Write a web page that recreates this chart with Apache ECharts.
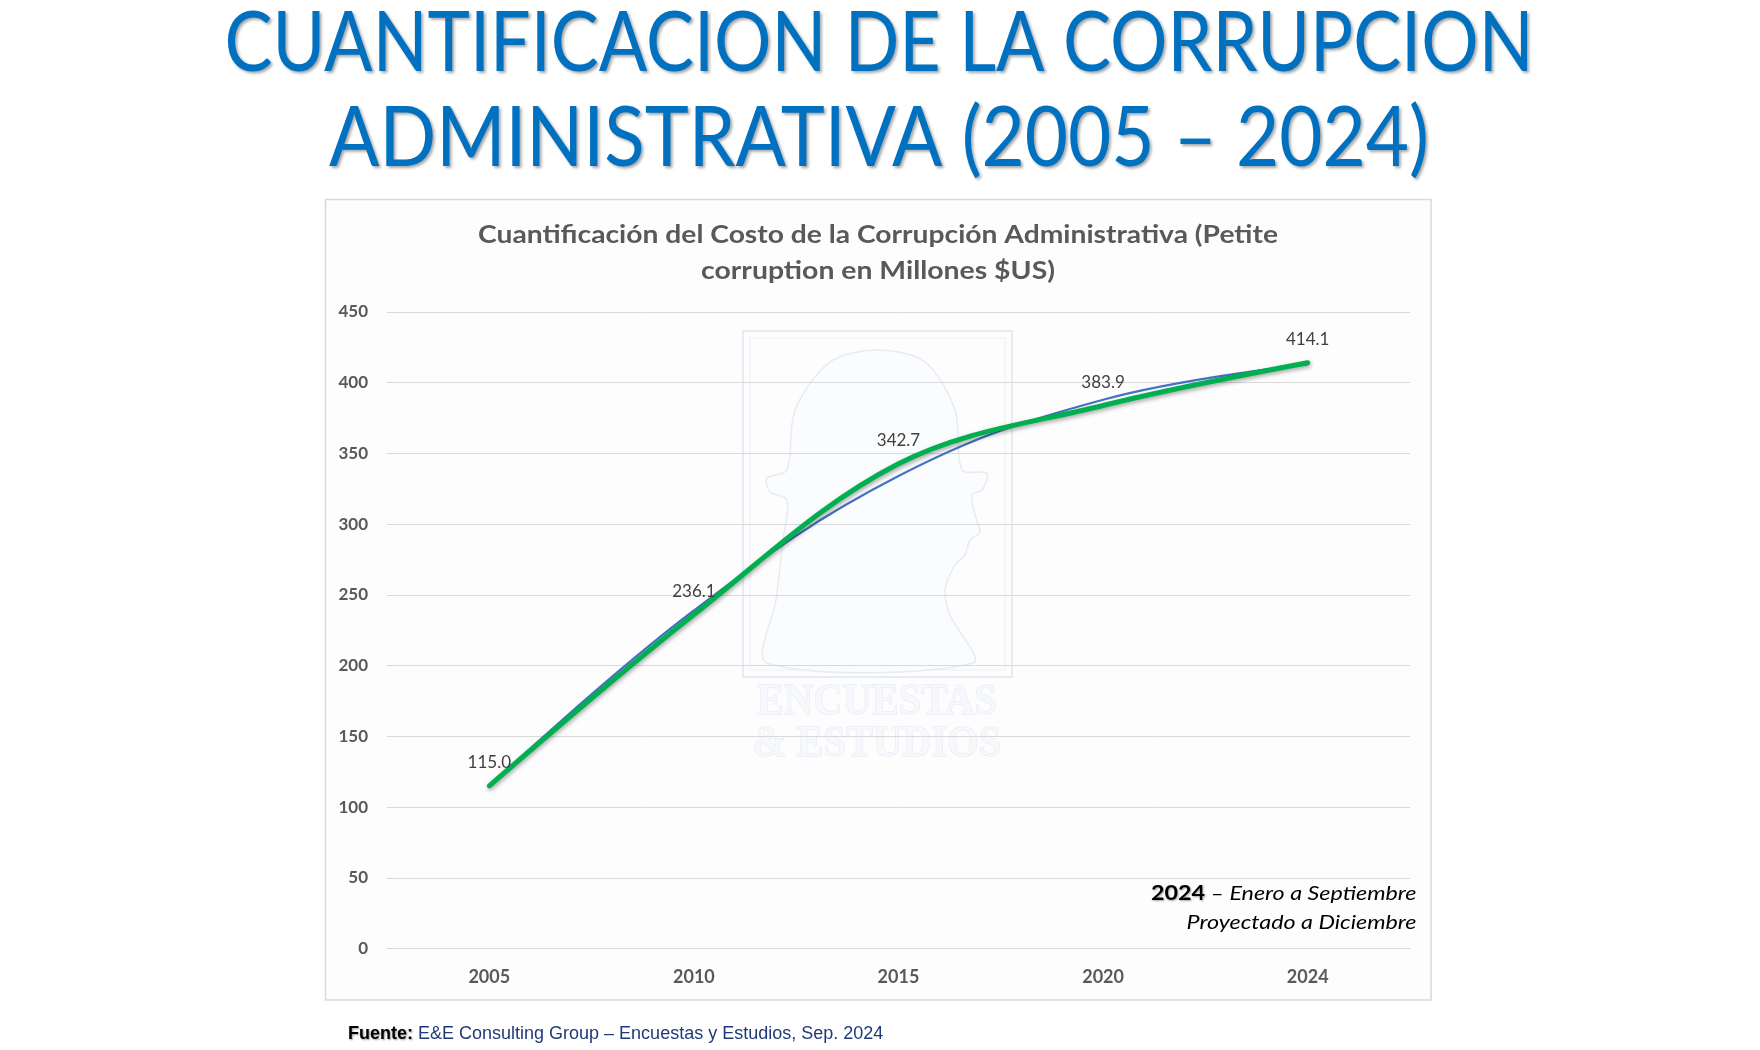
<!DOCTYPE html>
<html>
<head>
<meta charset="utf-8">
<script src="https://cdn.jsdelivr.net/npm/echarts@6/dist/echarts.min.js"></script>
<style>
html,body{margin:0;padding:0;background:#ffffff;}
#chart{width:1760px;height:1050px;}
</style>
</head>
<body>
<div id="chart"></div>
<script>
// ---- data ----
const years = ['2005', '2010', '2015', '2020', '2024'];
const costValues = [115.0, 236.1, 342.7, 383.9, 414.1];      // green series (labelled)
const trendValues = [115, 239, 334, 388, 413];                 // blue thin line
const yMin = 0, yMax = 450, yStep = 50;

const mainTitle1 = 'CUANTIFICACION DE LA CORRUPCION';
const mainTitle2 = 'ADMINISTRATIVA (2005 – 2024)';
const chartTitle1 = 'Cuantificación del Costo de la Corrupción Administrativa (Petite';
const chartTitle2 = 'corruption en Millones $US)';
const noteBold = '2024';
const noteLine1 = ' – Enero a Septiembre';
const noteLine2 = 'Proyectado a Diciembre';
const sourceLabel = 'Fuente:';
const sourceText = ' E&E Consulting Group – Encuestas y Estudios, Sep. 2024';

// ---- helpers ----
const mctx = document.createElement('canvas').getContext('2d');
function fitScale(text, font, target) {
  mctx.font = font;
  return target / mctx.measureText(text).width;
}

const CAL = 'Lato, "Open Sans", sans-serif';
const t1Font = 'normal 83px ' + CAL;
const s1 = fitScale(mainTitle1, t1Font, 1309);
const s2 = fitScale(mainTitle2, t1Font, 1100);
const ctFont = 'bold 25px ' + CAL;
const cs1 = fitScale(chartTitle1, ctFont, 800);
const cs2 = fitScale(chartTitle2, ctFont, 354);
const noteScale = fitScale(noteLine2, 'italic 20px ' + CAL, 230);

const titleShadow = {textShadowColor: 'rgba(0,0,0,0.35)', textShadowBlur: 3, textShadowOffsetX: 2, textShadowOffsetY: 2};

const chart = echarts.init(document.getElementById('chart'), null, {renderer: 'canvas'});

const option = {
  backgroundColor: '#ffffff',
  animation: false,
  grid: {left: 387, right: 350, top: 312, bottom: 101.5, containLabel: false},
  xAxis: {
    type: 'category',
    data: years,
    boundaryGap: true,
    axisLine: {show: true, lineStyle: {color: '#d9d9d9', width: 1}},
    axisTick: {show: false},
    axisLabel: {margin: 20, color: '#595959', fontFamily: CAL, fontWeight: 'bold', fontSize: 18}
  },
  yAxis: {
    type: 'value',
    min: yMin, max: yMax, interval: yStep,
    axisLine: {show: false},
    axisTick: {show: false},
    splitLine: {lineStyle: {color: '#d9d9d9', width: 1}},
    axisLabel: {margin: 19, color: '#595959', fontFamily: CAL, fontWeight: 'bold', fontSize: 17}
  },
  series: [
    {
      name: 'Tendencia',
      type: 'line',
      data: trendValues,
      smooth: 0.4,
      symbol: 'none',
      z: 3,
      lineStyle: {color: '#4472C4', width: 2.2}
    },
    {
      name: 'Costo',
      type: 'line',
      data: costValues,
      smooth: 0.35,
      symbol: 'circle',
      symbolSize: 1,
      showSymbol: true,
      itemStyle: {color: 'rgba(0,0,0,0)'},
      z: 4,
      lineStyle: {color: '#00B050', width: 5, cap: 'round',
        shadowColor: 'rgba(0,0,0,0.35)', shadowBlur: 4, shadowOffsetX: 1, shadowOffsetY: 2},
      label: {
        show: true, position: 'top', distance: 14,
        color: '#404040', fontFamily: CAL, fontSize: 17,
        formatter: p => p.value.toFixed(1)
      }
    }
  ],
  graphic: [
    // chart frame
    {type: 'rect', z: -10, shape: {x: 325.5, y: 199.5, width: 1105.5, height: 800.5},
      style: {fill: '#fdfdfd', stroke: '#d9d9d9', lineWidth: 1.5}},
    // watermark frame
    {type: 'rect', z: -5, shape: {x: 743, y: 331, width: 269, height: 346},
      style: {fill: 'rgba(0,0,0,0)', stroke: '#e6ebf4', lineWidth: 2}},
    {type: 'rect', z: -5, shape: {x: 750, y: 338, width: 255, height: 332},
      style: {fill: 'rgba(0,0,0,0)', stroke: '#ebeff7', lineWidth: 1}},
    // watermark silhouette
    {type: 'polygon', z: -5, shape: {smooth: 0.3, points: [
      [767, 663], [776, 600], [783, 540], [787, 500], [770, 492], [767, 478], [787, 470],
      [795, 410], [830, 362], [877, 350], [925, 362], [955, 410], [962, 470],
      [987, 473], [982, 490], [972, 495], [975, 515], [980, 532], [970, 540], [965, 555],
      [955, 565], [945, 590], [950, 615], [973, 663]
    ]}, style: {fill: '#fbfcfd', stroke: '#e6ebf4', lineWidth: 1.5}},
    {type: 'text', z: -5, x: 877, y: 703, scaleX: 0.92,
      style: {text: 'ENCUESTAS', font: 'bold 44px "Liberation Serif", "DejaVu Serif", serif',
        fill: '#f6f8fc', stroke: '#e1e8f2', lineWidth: 1, align: 'center', verticalAlign: 'middle'}},
    {type: 'text', z: -5, x: 877, y: 745, scaleX: 0.92,
      style: {text: '& ESTUDIOS', font: 'bold 44px "Liberation Serif", "DejaVu Serif", serif',
        fill: '#f6f8fc', stroke: '#e1e8f2', lineWidth: 1, align: 'center', verticalAlign: 'middle'}},
    // main title
    {type: 'text', x: 879, y: 44, scaleX: s1,
      style: Object.assign({text: mainTitle1, font: t1Font, fill: '#0070C0', align: 'center', verticalAlign: 'middle'}, titleShadow)},
    {type: 'text', x: 879, y: 139, scaleX: s2,
      style: Object.assign({text: mainTitle2, font: t1Font, fill: '#0070C0', align: 'center', verticalAlign: 'middle'}, titleShadow)},
    // chart title
    {type: 'text', x: 878, y: 235, scaleX: cs1,
      style: {text: chartTitle1, font: ctFont, fill: '#595959', align: 'center', verticalAlign: 'middle'}},
    {type: 'text', x: 878, y: 271, scaleX: cs2,
      style: {text: chartTitle2, font: ctFont, fill: '#595959', align: 'center', verticalAlign: 'middle'}},
    // note
    {type: 'text', x: 1416.5, y: 894, scaleX: noteScale,
      style: {text: '{b|' + noteBold + '}{i|' + noteLine1 + '}', align: 'right', verticalAlign: 'middle',
        rich: {
          b: {font: 'bold 20px ' + CAL, fill: '#000000', textShadowColor: 'rgba(0,0,0,0.35)', textShadowBlur: 2, textShadowOffsetX: 1, textShadowOffsetY: 1},
          i: {font: 'italic 20px ' + CAL, fill: '#000000'}
        }}},
    {type: 'text', x: 1416.5, y: 923, scaleX: noteScale,
      style: {text: noteLine2, font: 'italic 20px ' + CAL, fill: '#000000', align: 'right', verticalAlign: 'middle'}},
    // source
    {type: 'text', x: 348, y: 1034,
      style: {text: '{b|' + sourceLabel + '}{n|' + sourceText + '}', align: 'left', verticalAlign: 'middle',
        rich: {
          b: {font: 'bold 18px "Liberation Sans", Arial, sans-serif', fill: '#000000', textShadowColor: 'rgba(0,0,0,0.4)', textShadowBlur: 2, textShadowOffsetX: 1, textShadowOffsetY: 1},
          n: {font: '18px "Liberation Sans", Arial, sans-serif', fill: '#1F3A78'}
        }}}
  ]
};
chart.setOption(option);
</script>
</body>
</html>
